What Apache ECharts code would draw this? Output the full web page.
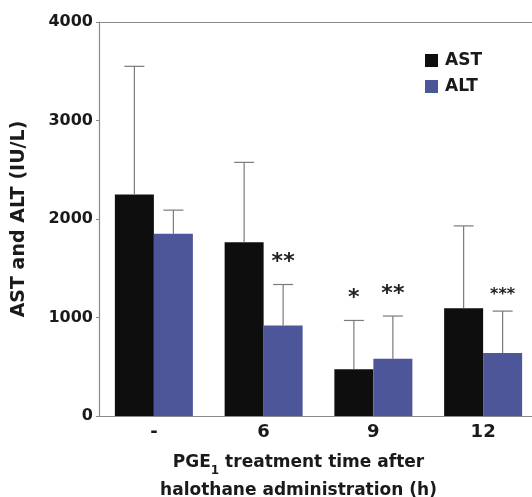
<!DOCTYPE html>
<html>
<head>
<meta charset="utf-8">
<script src="https://cdn.jsdelivr.net/npm/echarts@6/dist/echarts.min.js"></script>
<style>
html,body{margin:0;padding:0;background:#fff;}
#chart{width:532px;height:497px;}
</style>
</head>
<body>
<div id="chart"></div>
<script>
var categories = ['-', '6', '9', '12'];
var astValues = [2250, 1765, 475, 1095];
var altValues = [1850, 920, 580, 640];
var astErrorTop = [3550, 2575, 970, 1930];
var altErrorTop = [2090, 1335, 1015, 1065];
var astStars = ['', '', '*', ''];
var altStars = ['', '**', '**', '***'];
var yTicks = [0, 1000, 2000, 3000, 4000];

var FONT = 'DejaVu Sans';
var AST_COLOR = '#0e0e0e';
var ALT_COLOR = '#4c5699';
var BAR_W = 39;

var chart = echarts.init(document.getElementById('chart'));

function errSeries(name, vals, tops, stars, offset) {
  var data = vals.map(function (v, i) { return [i, v, tops[i]]; });
  return {
    type: 'custom',
    name: name + ' error',
    xAxisIndex: 0, yAxisIndex: 0,
    z: 5,
    silent: true,
    data: data,
    renderItem: function (params, api) {
      var base = api.coord([api.value(0), api.value(1)]);
      var top = api.coord([api.value(0), api.value(2)]);
      var x = base[0] + offset;
      var cap = 10;
      var star = stars[params.dataIndex];
      var children = [
        { type: 'line', shape: { x1: x, y1: base[1], x2: x, y2: top[1] }, style: { stroke: '#7a7a7a', lineWidth: 1.2 } },
        { type: 'line', shape: { x1: x - cap, y1: top[1], x2: x + cap, y2: top[1] }, style: { stroke: '#7a7a7a', lineWidth: 1.2 } }
      ];
      if (star) {
        var small = star.length >= 3;
        var fs = small ? 16 : 22;
        children.push({ type: 'text', style: { text: star, x: x, y: top[1] - (small ? 8 : 11), align: 'center', verticalAlign: 'bottom', font: 'bold ' + fs + 'px ' + FONT, fill: '#222' } });
      }
      return { type: 'group', children: children };
    }
  };
}

var option = {
  animation: false,
  backgroundColor: '#ffffff',
  grid: { left: 99, right: -6, top: 22, bottom: 81, containLabel: false, outerBoundsMode: 'none' },
  legend: {
    left: 425, top: 52, orient: 'vertical',
    padding: 0,
    icon: 'rect',
    itemWidth: 13, itemHeight: 13, itemGap: 9,
    data: ['AST', 'ALT'],
    textStyle: { fontFamily: FONT, fontWeight: 'bold', fontSize: 17, color: '#1a1a1a', padding: [0, 0, 0, 2] }
  },
  xAxis: [{
    type: 'category',
    data: categories,
    position: 'bottom',
    axisLine: { lineStyle: { color: '#8a8a8a', width: 1.2 } },
    axisTick: { show: false },
    axisLabel: { fontFamily: FONT, fontWeight: 'bold', fontSize: 18, color: '#1a1a1a', margin: 7 },
    name: '{a|PGE}{s|1}{a| treatment time after}\n{a|halothane administration (h)}',
    nameLocation: 'middle',
    nameGap: 33,
    nameTextStyle: {
      padding: [0, 40, 0, 0],
      rich: {
        a: { fontFamily: FONT, fontWeight: 'bold', fontSize: 17, color: '#1a1a1a', lineHeight: 28 },
        s: { fontFamily: FONT, fontWeight: 'bold', fontSize: 12, color: '#1a1a1a', verticalAlign: 'bottom', padding: [8, 0, 0, 0], lineHeight: 28 }
      }
    }
  }, {
    type: 'category',
    data: categories,
    position: 'top',
    axisLine: { show: true, lineStyle: { color: '#8a8a8a', width: 1.2 } },
    axisTick: { show: false },
    axisLabel: { show: false }
  }],
  yAxis: {
    type: 'value',
    min: 0, max: 4000, interval: 1000,
    axisLine: { show: true, lineStyle: { color: '#8a8a8a', width: 1.2 } },
    axisTick: { show: true, length: 3, lineStyle: { color: '#8a8a8a' } },
    splitLine: { show: false },
    axisLabel: {
      fontFamily: FONT, fontWeight: 'bold', fontSize: 16, color: '#1a1a1a', margin: 6,
      formatter: function (v) { return yTicks.indexOf(v) >= 0 ? String(v) : ''; }
    },
    name: 'AST and ALT (IU/L)',
    nameLocation: 'middle',
    nameGap: 70,
    nameTextStyle: { fontFamily: FONT, fontWeight: 'bold', fontSize: 19, color: '#1a1a1a' }
  },
  series: [
    { type: 'bar', name: 'AST', data: astValues, barWidth: BAR_W, barGap: '0%', itemStyle: { color: AST_COLOR } },
    { type: 'bar', name: 'ALT', data: altValues, barWidth: BAR_W, barGap: '0%', itemStyle: { color: ALT_COLOR } },
    errSeries('AST', astValues, astErrorTop, astStars, -BAR_W / 2),
    errSeries('ALT', altValues, altErrorTop, altStars, BAR_W / 2)
  ]
};
chart.setOption(option);
</script>
</body>
</html>
